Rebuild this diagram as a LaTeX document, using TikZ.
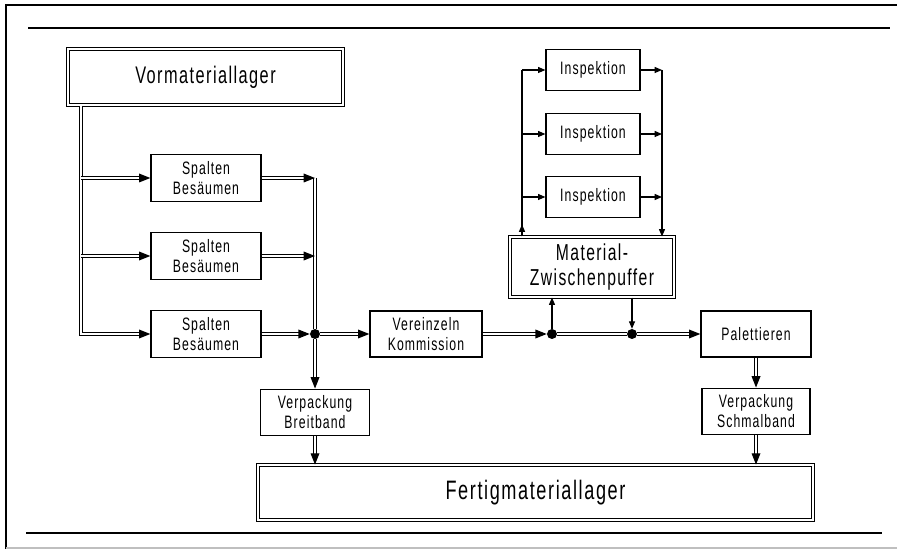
\documentclass[tikz,border=0pt]{standalone}
\usepackage{fontspec}
\setmainfont{Liberation Sans}[FakeStretch=0.68,LetterSpace=6]
\usetikzlibrary{arrows.meta}

\tikzset{
  box/.style={draw, line width=0.9pt, inner sep=1pt, align=center, font=\fontsize{13.5}{15}\selectfont},
  store/.style={draw, double, line width=0.8pt, double distance=1.5pt, inner sep=1pt, align=center},
  flow/.style={double, line width=0.9pt, double distance=1.5pt},
  flowarr/.style={flow, -{Triangle[length=8.5pt,width=6.5pt]}},
  sig/.style={line width=0.8pt},
  sigarr/.style={sig, -{Triangle[length=5.5pt,width=4.5pt]}},
  dot/.style={circle, fill, inner sep=0pt, minimum size=7.5pt},
}

\begin{document}
\begin{tikzpicture}[x=0.75pt,y=0.75pt,yscale=-1,xscale=1]
        \useasboundingbox (0,0) rectangle (897,549);
        % Frame
        \draw [line width=0.9pt] (6,549) -- (6,5) -- (897,5) ;
        \draw [color=gray!50, line width=0.9pt] (6,548) -- (897,548) ;
        \draw [line width=1pt] (28,28) -- (890,28) ;
        \draw [line width=1pt] (26,533) -- (882,533) ;
        % Store Nodes
        \node [store, minimum width=206pt, minimum height=42pt, font=\fontsize{18}{22}\selectfont] (vor) at (205.5,77) {Vormateriallager};
        \node [store, minimum width=416pt, minimum height=41pt, font=\fontsize{20}{24}\selectfont] (fert) at (535.5,492.5) {Fertigmateriallager};
        \node [store, minimum width=123pt, minimum height=45pt, font=\fontsize{17.3}{19}\selectfont] (zwp) at (592,267) {Material-\\Zwischenpuffer};
        % Process Nodes
        \node [box, minimum width=82.5pt, minimum height=35pt] (sp1) at (206,178) {Spalten\\Besäumen};
        \node [box, minimum width=82.5pt, minimum height=35pt] (sp2) at (206,256) {Spalten\\Besäumen};
        \node [box, minimum width=82.5pt, minimum height=35pt] (sp3) at (206,334) {Spalten\\Besäumen};
        \node [box, minimum width=82pt, minimum height=35pt] (brb) at (315,412.5) {Verpackung\\Breitband};
        \node [box, minimum width=84pt, minimum height=34.5pt] (ver) at (426,334) {Vereinzeln\\Kommission};
        \node [box, minimum width=82.5pt, minimum height=34.5pt] (pal) at (756,334) {Palettieren};
        \node [box, minimum width=81pt, minimum height=35pt] (smb) at (756,411.5) {Verpackung\\Schmalband};
        \node [box, minimum width=70.5pt, minimum height=30.5pt] (ins1) at (593,70) {Inspektion};
        \node [box, minimum width=70.5pt, minimum height=30.5pt] (ins2) at (593,134) {Inspektion};
        \node [box, minimum width=70.5pt, minimum height=30.5pt] (ins3) at (593,197) {Inspektion};
        % Junctions
        \node [dot] (d1) at (sp3 -| brb) {};
        \node [dot] (d2) at (552,334) {};
        \node [dot] (d3) at (632,334) {};
        \coordinate (lx) at (81,0);
        \coordinate (ilx) at (522,0);
        \coordinate (irx) at (662,0);
        % Connection
        \draw [flowarr] (vor.south -| lx) |- (sp3.west) ;
        \draw [flowarr] (lx |- sp1) -- (sp1.west) ;
        \draw [flowarr] (lx |- sp2) -- (sp2.west) ;
        \draw [flow] (sp1.east -| brb) -- (d1) ;
        \draw [flowarr] (sp1.east) -- (sp1.east -| brb) ;
        \draw [flowarr] (sp2.east) -- (sp2.east -| brb) ;
        \draw [flowarr] (sp3.east) -- (d1) ;
        \draw [flowarr] (d1) -- (brb.north) ;
        \draw [flowarr] (d1) -- (ver.west) ;
        \draw [flowarr] (brb.south) -- (brb.south |- fert.north) ;
        \draw [flowarr] (ver.east) -- (d2) ;
        \draw [flow] (d2) -- (d3) ;
        \draw [flowarr] (d3) -- (pal.west) ;
        \draw [flowarr] (pal.south) -- (smb.north) ;
        \draw [flowarr] (smb.south) -- (smb.south |- fert.north) ;
        \draw [sigarr] (d2) -- (d2 |- zwp.south) ;
        \draw [sigarr] (d3 |- zwp.south) -- (d3) ;
        % Inspection loop
        \draw [sigarr] (zwp.north -| ilx) -- ++(0,-12) ;
        \draw [sig] (zwp.north -| ilx) -- (ilx |- ins1) ;
        \draw [sigarr] (irx |- ins1) -- (irx |- zwp.north) ;
        \foreach \i in {1,2,3} {
          \draw [sigarr] (ilx |- ins\i) -- (ins\i.west) ;
          \draw [sigarr] (ins\i.east) -- (irx |- ins\i) ;
        }
\end{tikzpicture}
\end{document}
